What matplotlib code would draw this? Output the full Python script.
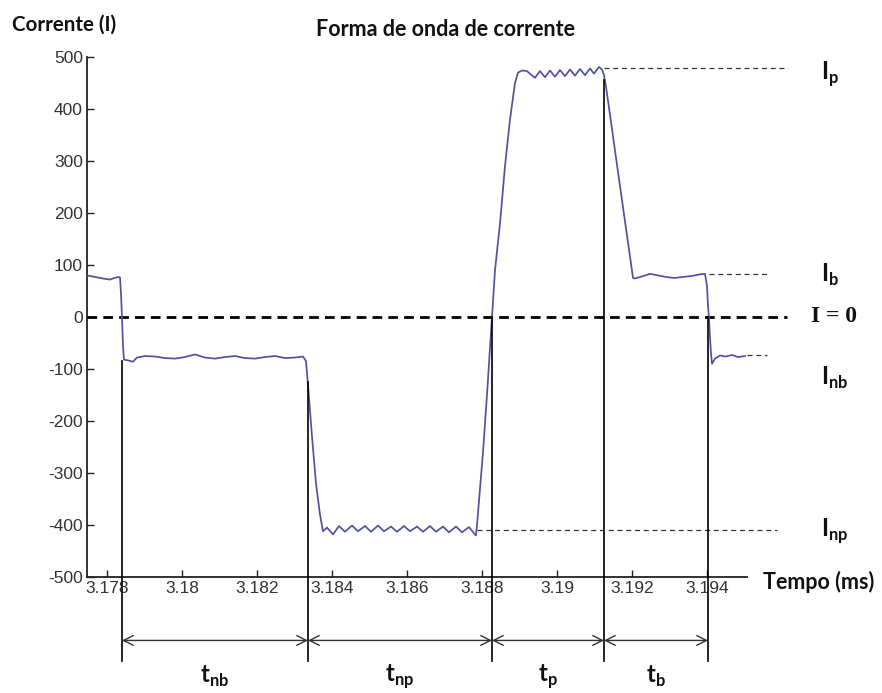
import matplotlib
matplotlib.use('Agg')
import matplotlib.pyplot as plt

# ---------------- data ----------------
time_ms = [3.177467, 3.17768, 3.177893, 3.17808, 3.178187, 3.17832, 3.178347, 3.178373, 3.1784, 3.178427, 3.178453,
           3.178533, 3.178693, 3.1788, 3.179013, 3.17928, 3.179547, 3.179813, 3.18008, 3.180347, 3.180613, 3.18088,
           3.181147, 3.181413, 3.18168, 3.181947, 3.182213, 3.18248, 3.182747, 3.183013, 3.183227, 3.183307, 3.18336,
           3.183467, 3.183573, 3.18368, 3.18376,
           3.183867, 3.184027, 3.184187, 3.184347, 3.184533, 3.184693, 3.18488, 3.18504, 3.185227, 3.185387, 3.185573,
           3.185733, 3.18592, 3.18608, 3.186267, 3.186427, 3.186613, 3.186773, 3.18696, 3.18712, 3.187307, 3.187467,
           3.187653, 3.187787, 3.18784,
           3.187867, 3.187947, 3.188027, 3.188133, 3.188213, 3.188267, 3.188347, 3.18848, 3.188613, 3.188747, 3.18888,
           3.18896,
           3.189067, 3.1892, 3.189307, 3.189413, 3.189547, 3.18968, 3.189813, 3.189947, 3.19008, 3.190213, 3.190347,
           3.19048, 3.190613, 3.190747, 3.19088, 3.190987, 3.19112, 3.1912, 3.191253,
           3.191307, 3.191413, 3.191547, 3.19168, 3.191813, 3.19192, 3.192027,
           3.19208, 3.192267, 3.19248, 3.192693, 3.192907, 3.19312, 3.19336, 3.1936, 3.193813, 3.193947,
           3.194, 3.194027, 3.194053, 3.19408, 3.194107, 3.194133, 3.194213, 3.194347, 3.194507, 3.194667, 3.194827,
           3.195013]
current = [80, 77, 74, 72, 75, 77, 76, 45, 0, -55, -82,
           -83, -86, -78, -75, -76, -79, -80, -77, -72, -78, -80,
           -77, -75, -79, -80, -77, -75, -79, -78, -76, -85, -130,
           -230, -320, -380, -412,
           -405, -418, -402, -413, -401, -412, -402, -413, -401, -412, -403,
           -413, -402, -412, -403, -413, -402, -413, -403, -414, -403, -414,
           -404, -416, -420,
           -400, -330, -260, -150, -60, 0, 90, 180, 290, 380, 450,
           470,
           474, 473, 466, 460, 473, 461, 474, 462, 475, 463, 476,
           464, 477, 465, 478, 468, 481, 476, 465,
           443, 389, 320, 252, 184, 130, 75,
           74, 78, 83, 80, 77, 75, 77, 79, 82, 83,
           60, 20, 0, -40, -70, -90, -80, -74, -76, -73, -77,
           -75]

marker_times = [3.1784, 3.18336, 3.188267, 3.191253, 3.194027]
marker_tops = [-85, -125, 0, 455, 0]
interval_names = ['nb', 'np', 'p', 'b']

ref_names = ['p', 'b', 'nb', 'np']
ref_levels = [478, 83, -74, -409]
ref_start = [3.191253, 3.194053, 3.195067, 3.187867]
ref_end = [3.19616, 3.1956, 3.1956, 3.195867]
ref_label_y = [466, 80, -118, -412]

zero_start, zero_end = 3.177467, 3.196133

xticks = [3.178, 3.18, 3.182, 3.184, 3.186, 3.188, 3.19, 3.192, 3.194]
xtick_labels = ['3.178', '3.18', '3.182', '3.184', '3.186', '3.188', '3.19', '3.192', '3.194']
yticks = [500, 400, 300, 200, 100, 0, -100, -200, -300, -400, -500]

# ---------------- style ----------------
plt.rcParams['mathtext.fontset'] = 'custom'
plt.rcParams['mathtext.bf'] = 'Lato:bold'
plt.rcParams['mathtext.rm'] = 'Lato'

fig = plt.figure(figsize=(8.82, 6.93), dpi=100)
ax = fig.add_axes([87/882, 116/693, 713/882, 520/693])

x_lo, x_hi = 3.177467, 3.19648
ax.set_xlim(x_lo, x_hi)
ax.set_ylim(-500, 500)

wave_color = '#5252a3'
ax.plot(time_ms, current, color=wave_color, lw=1.25, zorder=4)

# zero line
ax.plot([zero_start, zero_end], [0, 0], color='black', lw=2.0, ls=(0, (3.5, 2.2)), zorder=3, clip_on=False)

# reference dashed lines
for lv, s, e in zip(ref_levels, ref_start, ref_end):
    ax.plot([s, e], [lv, lv], color='#333333', lw=0.9, ls=(0, (4, 3)), zorder=2, clip_on=False)

# vertical markers
y_bottom = -662
for t, top in zip(marker_times, marker_tops):
    ax.plot([t, t], [top, y_bottom], color='black', lw=1.2, zorder=5, clip_on=False)

# arrows
y_arrow = -622
for i in range(len(marker_times) - 1):
    ax.annotate('', xy=(marker_times[i + 1], y_arrow), xytext=(marker_times[i], y_arrow),
                xycoords='data', textcoords='data', annotation_clip=False,
                arrowprops=dict(arrowstyle='<->,head_length=0.7,head_width=0.35', color='#333333', lw=1.0,
                                shrinkA=0, shrinkB=0))
    mid = 0.5 * (marker_times[i] + marker_times[i + 1])
    ax.text(mid, -692, r'$\mathbf{t}_{\mathbf{%s}}$' % interval_names[i], ha='center', va='center',
            fontsize=17, color='#111111')

# right-side labels
x_lab = 3.19705
for nm, ly in zip(ref_names, ref_label_y):
    ax.text(x_lab, ly, r'$\mathbf{I}_{\mathbf{%s}}$' % nm,
            ha='left', va='center', fontsize=17, color='#111111')
ax.text(3.19678, 0, 'I = 0', ha='left', va='center', fontsize=17, fontweight='bold',
        family='Liberation Serif', color='#111111')

# spines / ticks
for s in ('top', 'right'):
    ax.spines[s].set_visible(False)
ax.spines['bottom'].set_bounds(x_lo, 3.195067)
ax.spines['left'].set_bounds(-500, 500)
ax.spines['left'].set_linewidth(1.3)
ax.spines['bottom'].set_linewidth(1.3)
ax.spines['left'].set_color('#222222')
ax.spines['bottom'].set_color('#222222')

ax.set_xticks(xticks)
ax.set_xticklabels(xtick_labels)
ax.set_yticks(yticks)
ax.set_yticklabels([str(v) for v in yticks])
ax.tick_params(direction='in', length=5, width=1.0, colors='#222222', labelsize=12.5, pad=3)
for lab in ax.get_xticklabels() + ax.get_yticklabels():
    lab.set_family('Liberation Sans')
    lab.set_color('#333333')

# titles / axis labels
fig.text(12/882, 1 - 25/693, 'Corrente (I)', ha='left', va='center', fontsize=14.8,
         fontweight='bold', family='Lato', color='#111111')
fig.text(445/882, 1 - 29/693, 'Forma de onda de corrente', ha='center', va='center', fontsize=15.5,
         fontweight='bold', family='Lato', color='#111111')
fig.text(763/882, 1 - 582/693, 'Tempo (ms)', ha='left', va='center', fontsize=15.5,
         fontweight='bold', family='Lato', color='#111111')

fig.savefig('out.png', dpi=100, facecolor='white')
